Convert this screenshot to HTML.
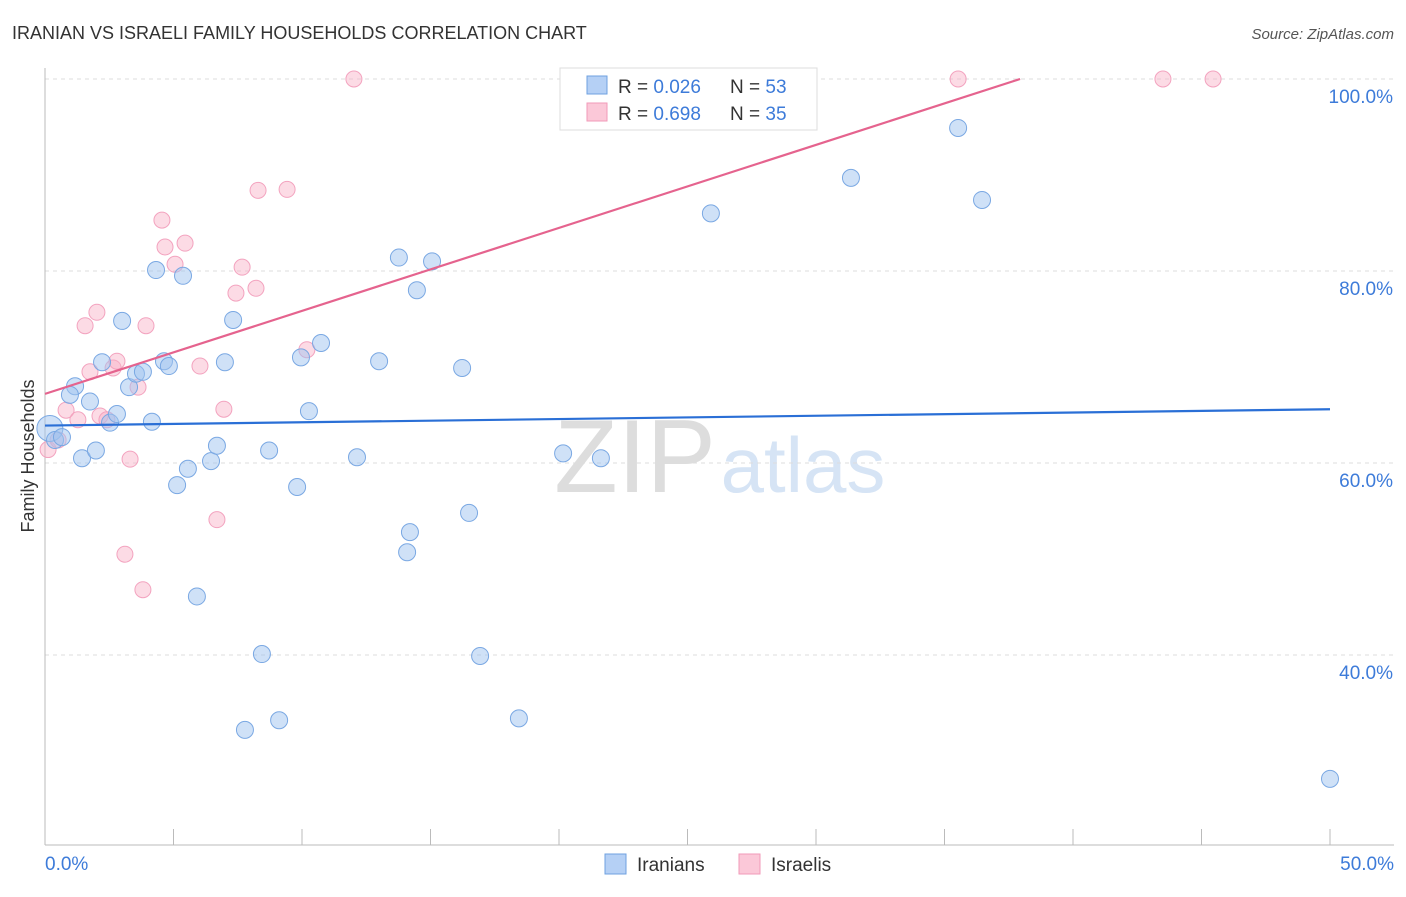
<!DOCTYPE html>
<html><head><meta charset="utf-8"><style>
body{margin:0;background:#fff;font-family:"Liberation Sans",sans-serif}
svg text{font-family:"Liberation Sans",sans-serif}
</style></head><body>
<svg id="c" width="1406" height="892">
<text x="12" y="39" font-size="18" fill="#333">IRANIAN VS ISRAELI FAMILY HOUSEHOLDS CORRELATION CHART</text>
<text x="1394" y="39" font-size="15" fill="#555" font-style="italic" text-anchor="end">Source: ZipAtlas.com</text>
<text x="34" y="456" font-size="18" fill="#333" text-anchor="middle" transform="rotate(-90 34 456)">Family Households</text>
<g><text x="635" y="492" font-size="104" fill="#ddd" font-family="Liberation Serif" text-anchor="middle">ZIP</text><text x="803" y="492" font-size="78" fill="#d6e4f5" text-anchor="middle">atlas</text></g>
<g id="grid"></g><g id="marks"></g>
<g>
<rect x="560" y="68" width="257" height="62" fill="#fff" stroke="#ddd"/>
<rect x="587" y="76" width="20" height="18" fill="#b5d0f5" stroke="#6fa1e0"/>
<rect x="587" y="103" width="20" height="18" fill="#fbc8d8" stroke="#f19ab8"/>
<text x="618" y="93" font-size="19" fill="#333">R = <tspan fill="#3d7bd9">0.026</tspan></text><text x="730" y="93" font-size="19" fill="#333">N = <tspan fill="#3d7bd9">53</tspan></text>
<text x="618" y="120" font-size="19" fill="#333">R = <tspan fill="#3d7bd9">0.698</tspan></text><text x="730" y="120" font-size="19" fill="#333">N = <tspan fill="#3d7bd9">35</tspan></text>
</g>
<g>
<rect x="605" y="854" width="21" height="20" fill="#b5d0f5" stroke="#6fa1e0"/><text x="637" y="871" font-size="19" fill="#333">Iranians</text>
<rect x="739" y="854" width="21" height="20" fill="#fbc8d8" stroke="#f19ab8"/><text x="771" y="871" font-size="19" fill="#333">Israelis</text>
</g>
</svg>
<script>
const blueX=[0.19,0.39,0.66,1.17,0.97,1.75,1.44,1.98,2.22,2.53,2.80,3.00,3.27,3.54,3.81,4.16,4.32,4.63,4.82,5.37,5.14,5.56,5.91,6.46,6.69,7.00,7.32,7.78,8.44,8.72,9.11,9.81,9.96,10.27,10.74,12.14,13.00,13.77,14.09,14.20,14.47,15.06,16.23,16.50,16.93,18.44,20.16,21.63,25.91,31.36,35.53,36.46,50.0];
const blueY=[63.6,62.4,62.7,68.0,67.1,66.4,60.5,61.3,70.5,64.2,65.1,74.8,67.9,69.3,69.5,64.3,80.1,70.6,70.1,79.5,57.7,59.4,46.1,60.2,61.8,70.5,74.9,32.2,40.1,61.3,33.2,57.5,71.0,65.4,72.5,60.6,70.6,81.4,50.7,52.8,78.0,81.0,69.9,54.8,39.9,33.4,61.0,60.5,86.0,89.7,94.9,87.4,27.1];
const pinkX=[0.12,0.51,0.82,1.28,1.56,1.75,2.02,2.14,2.41,2.65,2.80,3.11,3.31,3.62,3.81,3.93,4.55,4.67,5.06,5.45,6.03,6.69,6.96,7.43,7.67,8.21,8.29,9.42,10.19,12.02,35.53,43.5,45.45];
const pinkY=[61.4,62.4,65.5,64.5,74.3,69.5,75.7,64.9,64.5,69.9,70.6,50.5,60.4,67.9,46.8,74.3,85.3,82.5,80.7,82.9,70.1,54.1,65.6,77.7,80.4,78.2,88.4,88.5,71.8,100,100,100,100];
const blueFit=[63.9,0.034]; const pinkFit=[67.2,0.8645];
const yTicks=[100,80,60,40]; const xTickLabels=["0.0%","50.0%"];
const NS="http://www.w3.org/2000/svg";
const sx=v=>45+v*25.7, sy=v=>79+(100-v)*9.6;
function mk(t,a,p){const e=document.createElementNS(NS,t);for(const k in a)e.setAttribute(k,a[k]);p.appendChild(e);return e;}
const g=document.getElementById('grid'), m=document.getElementById('marks');
yTicks.forEach(t=>{
 const l=mk('line',{x1:45,x2:1394,y1:sy(t),y2:sy(t),stroke:'#ddd','stroke-dasharray':'4,4'},g);
 
 
 const tx=mk('text',{x:1393,y:sy(t)+24,'font-size':19,fill:'#3d7bd9','text-anchor':'end'},g);tx.textContent=t.toFixed(1)+'%';
 
 
});
mk('line',{x1:45,x2:45,y1:68,y2:845,stroke:'#bbb'},g);
mk('line',{x1:45,x2:1394,y1:845,y2:845,stroke:'#bbb'},g);
for(let k=0;k<=10;k++){const x=sx(k*5);mk('line',{x1:x,x2:x,y1:829,y2:845,stroke:'#bbb'},g);}
const xl0=mk('text',{x:45,y:870,'font-size':19,fill:'#3d7bd9'},g);xl0.textContent=xTickLabels[0];


const xl1=mk('text',{x:1394,y:870,'font-size':19,fill:'#3d7bd9','text-anchor':'end'},g);xl1.textContent=xTickLabels[1];


pinkX.forEach((x,i)=>{const c=mk('circle',{cx:sx(x),cy:sy(pinkY[i]),r:8,fill:'rgba(248,175,198,0.45)',stroke:'#f3a3bf','stroke-width':1},m);
 
 });
blueX.forEach((x,i)=>{const c=mk('circle',{cx:sx(x),cy:sy(blueY[i]),r:i==0?13:8.5,fill:'rgba(160,196,240,0.5)',stroke:'#7aa8e3','stroke-width':1},m);
 
 });
const bl=mk('line',{x1:sx(0),y1:sy(blueFit[0]),x2:sx(50),y2:sy(blueFit[0]+blueFit[1]*50),stroke:'#2a6fd6','stroke-width':2.2},m);


const xe=(100-pinkFit[0])/pinkFit[1];
const pl=mk('line',{x1:sx(0),y1:sy(pinkFit[0]),x2:sx(xe),y2:sy(100),stroke:'#e5638e','stroke-width':2.2},m);


</script>
</body></html>
